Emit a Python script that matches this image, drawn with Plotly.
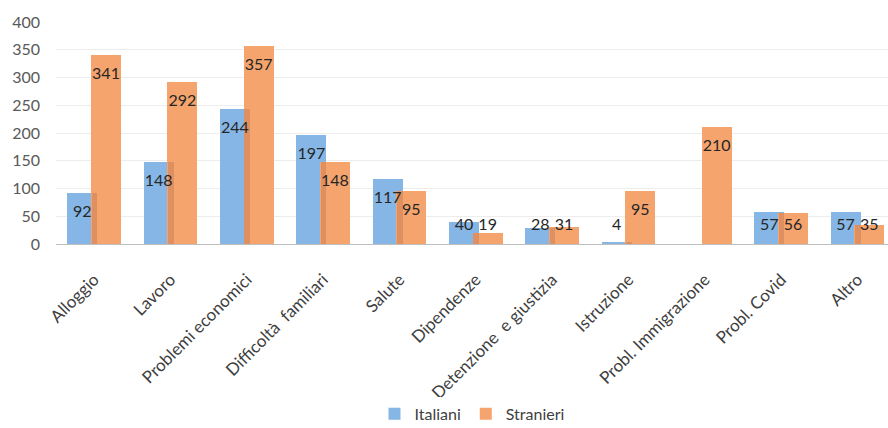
import plotly.graph_objects as go

categories = ["Alloggio", "Lavoro", "Problemi economici", "Difficoltà  familiari", "Salute",
              "Dipendenze", "Detenzione  e giustizia", "Istruzione", "Probl. Immigrazione",
              "Probl. Covid", "Altro"]
italiani = [92, 148, 244, 197, 117, 40, 28, 4, 0, 57, 57]
stranieri = [341, 292, 357, 148, 95, 19, 31, 95, 210, 56, 35]
y_ticks = [0, 50, 100, 150, 200, 250, 300, 350, 400]

BLUE = "#85B6E5"
ORANGE = "#F4A46C"
SHADE = "#DE9060"
FONT = "Lato, Carlito, 'Liberation Sans', sans-serif"

idx = list(range(len(categories)))
off = 0.155
w = 0.39

fig = go.Figure()
fig.add_trace(go.Bar(x=[i - off for i in idx], y=italiani, width=w, name="Italiani",
                     marker=dict(color=BLUE, line=dict(width=0))))
fig.add_trace(go.Bar(x=[i + off for i in idx], y=stranieri, width=w, name="Stranieri",
                     marker=dict(color=ORANGE, line=dict(width=0))))
# darker overlap strip
fig.add_trace(go.Bar(x=[i + 0.006 for i in idx], y=[min(a, b) for a, b in zip(italiani, stranieri)],
                     width=0.075, showlegend=False, hoverinfo="skip",
                     marker=dict(color=SHADE, line=dict(width=0))))

def label_y(v):
    return max(v - 36, 33)

lab_x, lab_y, lab_t = [], [], []
for i in idx:
    if italiani[i] > 0:
        lab_x.append(i - off); lab_y.append(label_y(italiani[i])); lab_t.append(str(italiani[i]))
    lab_x.append(i + off); lab_y.append(label_y(stranieri[i])); lab_t.append(str(stranieri[i]))

fig.add_trace(go.Scatter(x=lab_x, y=lab_y, text=lab_t, mode="text", showlegend=False,
                         textposition="middle center", hoverinfo="skip",
                         textfont=dict(family=FONT, size=16, color="#262626")))

fig.update_layout(
    width=888, height=428,
    margin=dict(l=56, r=0, t=22, b=184, autoexpand=False),
    barmode="overlay",
    plot_bgcolor="white", paper_bgcolor="white",
    font=dict(family=FONT, color="#595959", size=15),
    xaxis=dict(range=[-0.5, 10.4], tickvals=idx, ticktext=categories, tickangle=-45,
               showgrid=False, showline=True, linecolor="#BFBFBF", linewidth=1,
               ticks="", tickfont=dict(size=17, color="#404040"), zeroline=False,
               automargin=False, ticklabelstandoff=18),
    yaxis=dict(range=[0, 400], tickvals=y_ticks, showgrid=True, gridcolor="#EDEDED",
               gridwidth=1, zeroline=False, showline=False, ticks="",
               tickfont=dict(size=16, color="#595959"), automargin=False,
               ticklabelstandoff=15),
    legend=dict(orientation="h", x=0.5, xanchor="center", y=-0.765, yanchor="middle",
                font=dict(size=16, color="#404040"), itemwidth=30, traceorder="normal"),
    bargap=0,
)

fig.write_html("out.html")
